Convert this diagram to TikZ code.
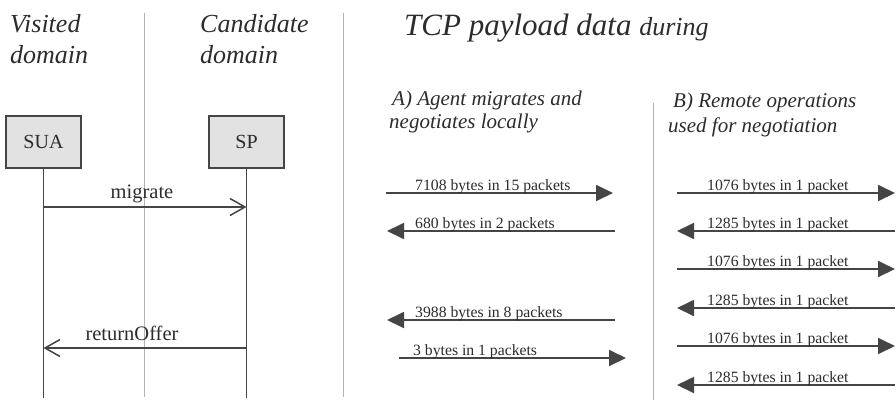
\documentclass[tikz,border=0pt]{standalone}
\usepackage{fontspec}
\setmainfont{Liberation Serif}
\usetikzlibrary{arrows.meta}
\definecolor{ink}{HTML}{2C2C2C}
\definecolor{wire}{HTML}{454545}
\definecolor{boxgray}{HTML}{E2E2E2}
\definecolor{divgray}{HTML}{B4B4B4}
\tikzset{
  hdr/.style={anchor=base west, inner sep=0pt, text=ink, font=\fontsize{26}{31}\selectfont\itshape},
  sub/.style={anchor=base west, inner sep=0pt, text=ink, font=\fontsize{21}{25}\selectfont\itshape},
  lbl/.style={anchor=base west, inner sep=0pt, text=ink, font=\fontsize{15.7}{18}\selectfont},
  msg/.style={anchor=base, inner sep=0pt, text=ink, font=\fontsize{20.5}{24}\selectfont},
  obj/.style={draw=wire, line width=1.8pt, fill=boxgray, minimum width=75pt, minimum height=52pt,
              inner sep=0pt, text=ink, font=\fontsize{20}{24}\selectfont},
  divider/.style={draw=divgray, line width=0.9pt},
  life/.style={draw=wire, line width=1.5pt},
  call/.style={draw=wire, line width=1.5pt, -{Straight Barb[length=15pt,width=17pt,line width=1.5pt]}},
  flow/.style={draw=wire, line width=1.8pt, -{Triangle[length=17pt,width=16pt]}}
}
\begin{document}
\begin{tikzpicture}[x=1pt,y=-1pt]
\useasboundingbox[fill=white] (0,0) rectangle (896,402);

% column dividers
\coordinate (d1t) at (144,13);  \coordinate (d1b) at (144,397);
\coordinate (d2t) at (343,13);  \coordinate (d2b) at (343,397);
\coordinate (d3t) at (653,103); \coordinate (d3b) at (653,400);
\draw[divider] (d1t) -- (d1b);
\draw[divider] (d2t) -- (d2b);
\draw[divider] (d3t) -- (d3b);

% domain headings
\node[hdr] (vis1) at (10,32) {Visited};
\node[hdr] (vis2) at (10,63) {domain};
\node[hdr] (cand1) at (200,32) {Candidate};
\node[hdr] (cand2) at (200,63) {domain};

% sequence objects and lifelines
\node[obj] (sua) at (43.5,142) {SUA};
\node[obj] (sp) at (246.5,142) {SP};
\coordinate (suaEnd) at (43.5,398);
\coordinate (spEnd) at (246.5,398);
\draw[life] (sua.south) -- (suaEnd);
\draw[life] (sp.south) -- (spEnd);

% messages
\coordinate (migS) at (43.5,207);  \coordinate (migT) at (246.5,207);
\draw[call] (migS) -- (migT);
\node[msg] (migL) at (142,198) {migrate};
\coordinate (retS) at (246.5,348); \coordinate (retT) at (43.5,348);
\draw[call] (retS) -- (retT);
\node[msg] (retL) at (132,340) {returnOffer};

% payload title
\node[anchor=base west, inner sep=0pt, text=ink, font=\itshape] (title) at (404,35)
  {\fontsize{31}{36}\selectfont TCP payload data \fontsize{26}{30}\selectfont during};

% case A: local negotiation
\node[sub] (a1) at (392,105) {A) Agent migrates and};
\node[sub] (a2) at (389,128) {negotiates locally};

\coordinate (a1w) at (386,193); \coordinate (a1e) at (613,193);
\draw[flow] (a1w) -- (a1e);
\node[lbl] (a1l) at (415,190) {7108 bytes in 15 packets};

\coordinate (a2w) at (387,231); \coordinate (a2e) at (615,231);
\draw[flow] (a2e) -- (a2w);
\node[lbl] (a2l) at (415,228) {680 bytes in 2 packets};

\coordinate (a3w) at (387,320); \coordinate (a3e) at (615,320);
\draw[flow] (a3e) -- (a3w);
\node[lbl] (a3l) at (415,317) {3988 bytes in 8 packets};

\coordinate (a4w) at (399,358); \coordinate (a4e) at (626,358);
\draw[flow] (a4w) -- (a4e);
\node[lbl] (a4l) at (413,355) {3 bytes in 1 packets};

% case B: remote operations
\node[sub] (b1) at (673,107) {B) Remote operations};
\node[sub] (b2) at (668,132) {used for negotiation};

\coordinate (b1w) at (677,193); \coordinate (b1e) at (895,193);
\draw[flow] (b1w) -- (b1e);
\node[lbl] (b1l) at (707,190) {1076 bytes in 1 packet};

\coordinate (b2w) at (677,231); \coordinate (b2e) at (895,231);
\draw[flow] (b2e) -- (b2w);
\node[lbl] (b2l) at (707,228) {1285 bytes in 1 packet};

\coordinate (b3w) at (677,269); \coordinate (b3e) at (895,269);
\draw[flow] (b3w) -- (b3e);
\node[lbl] (b3l) at (707,266) {1076 bytes in 1 packet};

\coordinate (b4w) at (677,308); \coordinate (b4e) at (895,308);
\draw[flow] (b4e) -- (b4w);
\node[lbl] (b4l) at (707,305) {1285 bytes in 1 packet};

\coordinate (b5w) at (677,346); \coordinate (b5e) at (895,346);
\draw[flow] (b5w) -- (b5e);
\node[lbl] (b5l) at (707,343) {1076 bytes in 1 packet};

\coordinate (b6w) at (677,385); \coordinate (b6e) at (895,385);
\draw[flow] (b6e) -- (b6w);
\node[lbl] (b6l) at (707,382) {1285 bytes in 1 packet};
\end{tikzpicture}
\end{document}
